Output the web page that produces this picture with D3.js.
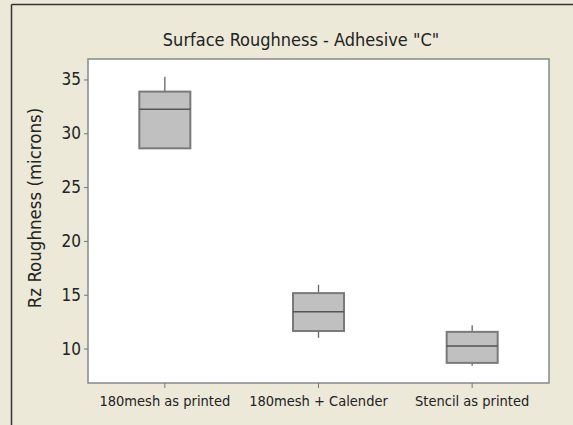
<!DOCTYPE html>
<html lang="en">
<head>
    <meta charset="utf-8">
    <title>Surface Roughness</title>
    <script src="https://cdn.jsdelivr.net/npm/d3@7/dist/d3.min.js"></script>
    <style>
        body { margin: 0; background: #ece9d8; }
        text { font-family: Tahoma, "DejaVu Sans Condensed", "Liberation Sans", sans-serif; fill: #222; }
    </style>
</head>
<body>
<div id="chart"></div>
<script>
    // data
    const groups = ["180mesh as printed", "180mesh + Calender", "Stencil as printed"];
    const whiskerLow = [28.6, 11.0, 8.4];
    const q1 = [28.6, 11.63, 8.67];
    const median = [32.23, 13.43, 10.24];
    const q3 = [33.87, 15.15, 11.55];
    const whiskerHigh = [35.26, 15.93, 12.16];
    const yTicks = [10, 15, 20, 25, 30, 35];

    const width = 573, height = 425;
    const plot = {left: 88, right: 549, top: 59, bottom: 383};

    const svg = d3.select("#chart").append("svg")
        .attr("width", width)
        .attr("height", height);

    // window frame
    svg.append("rect").attr("width", width).attr("height", height).attr("fill", "#ece9d8");
    svg.append("line").attr("x1", 11.5).attr("x2", width).attr("y1", 4.5).attr("y2", 4.5)
        .attr("stroke", "#333").attr("stroke-width", 1.5);
    svg.append("line").attr("x1", 11.5).attr("x2", 11.5).attr("y1", 4.5).attr("y2", height)
        .attr("stroke", "#333").attr("stroke-width", 1.5);

    const x = d3.scaleBand().domain(groups).range([plot.left, plot.right]);
    const y = d3.scaleLinear().domain([6.8, 36.9]).range([plot.bottom, plot.top]);

    svg.append("rect")
        .attr("x", plot.left).attr("y", plot.top)
        .attr("width", plot.right - plot.left).attr("height", plot.bottom - plot.top)
        .attr("fill", "white").attr("stroke", "#888").attr("stroke-width", 1.5);

    // axes
    const yAxis = svg.append("g")
        .attr("transform", `translate(${plot.left},0)`)
        .call(d3.axisLeft(y).tickValues(yTicks).tickSize(4).tickPadding(3).tickSizeOuter(0));
    yAxis.select(".domain").remove();
    yAxis.selectAll(".tick line").attr("stroke", "#777");
    yAxis.selectAll("text").style("font-size", "17px").attr("fill", "#222");

    const xAxis = svg.append("g")
        .attr("transform", `translate(0,${plot.bottom})`)
        .call(d3.axisBottom(x).tickSize(5).tickPadding(8).tickSizeOuter(0));
    xAxis.select(".domain").remove();
    xAxis.selectAll(".tick line").attr("stroke", "#777");
    xAxis.selectAll("text").style("font-size", "14.5px").attr("fill", "#222");

    // boxes
    const boxW = 51;
    const data = groups.map((g, i) => ({g, lo: whiskerLow[i], q1: q1[i], med: median[i], q3: q3[i], hi: whiskerHigh[i]}));
    const cx = d => x(d.g) + x.bandwidth() / 2;

    const boxes = svg.append("g").selectAll("g").data(data).join("g");
    boxes.append("line")
        .attr("x1", cx).attr("x2", cx)
        .attr("y1", d => y(d.hi)).attr("y2", d => y(d.q3))
        .attr("stroke", "#666").attr("stroke-width", 1.3);
    boxes.append("line")
        .attr("x1", cx).attr("x2", cx)
        .attr("y1", d => y(d.q1)).attr("y2", d => y(d.lo))
        .attr("stroke", "#666").attr("stroke-width", 1.3);
    boxes.append("rect")
        .attr("x", d => cx(d) - boxW / 2).attr("width", boxW)
        .attr("y", d => y(d.q3)).attr("height", d => y(d.q1) - y(d.q3))
        .attr("fill", "#c0c0c0").attr("stroke", "#7a7a7a").attr("stroke-width", 2);
    boxes.append("line")
        .attr("x1", d => cx(d) - boxW / 2).attr("x2", d => cx(d) + boxW / 2)
        .attr("y1", d => y(d.med)).attr("y2", d => y(d.med))
        .attr("stroke", "#555").attr("stroke-width", 1.5);

    // titles
    svg.append("text")
        .attr("x", 301).attr("y", 46)
        .attr("text-anchor", "middle")
        .style("font-size", "18px")
        .text("Surface Roughness - Adhesive \"C\"");

    svg.append("text")
        .attr("transform", `translate(41,208) rotate(-90)`)
        .attr("text-anchor", "middle")
        .style("font-size", "18.5px")
        .text("Rz Roughness (microns)");
</script>
</body>
</html>
